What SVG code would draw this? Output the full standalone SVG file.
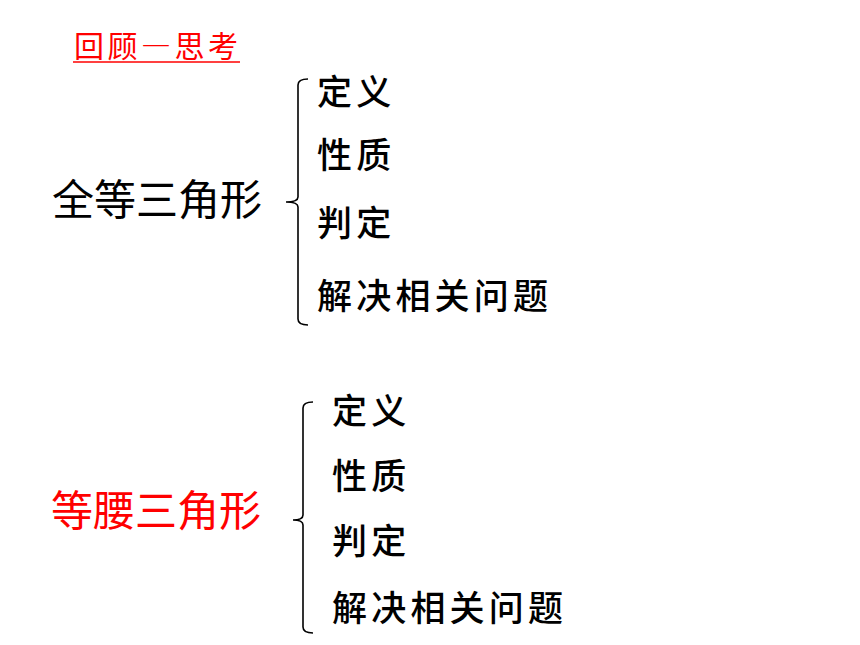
<svg xmlns="http://www.w3.org/2000/svg" width="860" height="645" viewBox="0 0 860 645">
<style>
text{font-family:"Noto Sans CJK SC","Noto Sans",sans-serif;}
.title{font-size:30px;fill:#ff0000;letter-spacing:3.5px;font-feature-settings:"fwid";}
.main{font-size:42px;fill:#000;}
.red{fill:#ff0000;}
.item{font-size:35px;fill:#000;letter-spacing:4.2px;font-weight:500;}
.brace{fill:none;stroke:#000;stroke-width:1.6;}
</style>
<rect width="860" height="645" fill="#fff"/>
<g id="title">
<text class="title" x="74" y="57">回顾—思考</text>
<line x1="73" y1="62" x2="240" y2="62" stroke="#ff0000" stroke-width="1.5"/>
</g>
<g id="node-quandeng">
<text class="main" x="52" y="215">全等三角形</text>
</g>
<g id="node-dengyao">
<text class="main red" x="51" y="526">等腰三角形</text>
</g>
<g id="list1">
<text class="item" x="317" y="105">定义</text>
<text class="item" x="317" y="168">性质</text>
<text class="item" x="317" y="236">判定</text>
<text class="item" x="317" y="309">解决相关问题</text>
</g>
<g id="list2">
<text class="item" x="332" y="424">定义</text>
<text class="item" x="332" y="489">性质</text>
<text class="item" x="332" y="554">判定</text>
<text class="item" x="332" y="621">解决相关问题</text>
</g>
<g id="connectors">
<path class="brace" d="M308,79 Q298,79 298,85 L298,197 Q298,202 286,202 Q298,202 298,207 L298,319 Q298,325 308,325"/>
<path class="brace" d="M313,402 Q303,402 303,408 L303,515 Q303,520 293,520 Q303,520 303,525 L303,627 Q303,633 313,633"/>
</g>
</svg>
